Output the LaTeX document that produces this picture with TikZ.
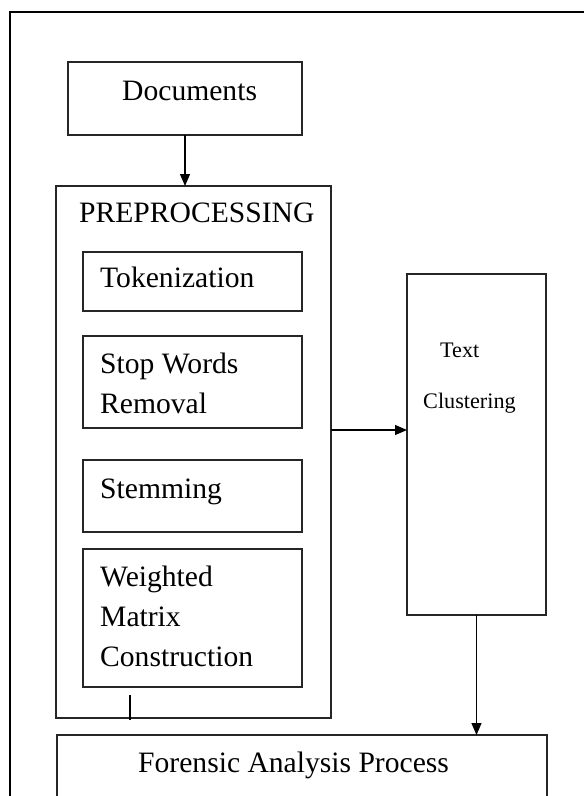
\documentclass[tikz,border=0pt]{standalone}
\usepackage{fontspec}
\setmainfont{Liberation Serif}
\usetikzlibrary{arrows.meta}
\begin{document}
\begin{tikzpicture}[x=1pt,y=-1pt,
  box/.style={draw=black!85,line width=1.3pt,inner sep=0pt,outer sep=0pt},
  lbl/.style={inner sep=0pt,anchor=base west,font=\fontsize{29.6}{40}\selectfont},
  small/.style={inner sep=0pt,anchor=base west,font=\fontsize{22.2}{30}\selectfont},
  arr/.style={line width=1.2pt,-{Triangle[length=12pt,width=10pt]}}]
\useasboundingbox (0,0) rectangle (584,796);
% page frame, open at right and bottom
\draw[line width=2.2pt] (10,796) -- (10,12) -- (584,12);
% boxes
\node[box,minimum width=234pt,minimum height=73pt] (docs) at (185,98.5) {};
\node[box,minimum width=275pt,minimum height=532pt] (pre) at (193.5,452) {};
\node[box,minimum width=219pt,minimum height=59pt] (tok) at (192.5,281.5) {};
\node[box,minimum width=219pt,minimum height=92pt] (stop) at (192.5,382) {};
\node[box,minimum width=219pt,minimum height=72pt] (stem) at (192.5,496) {};
\node[box,minimum width=219pt,minimum height=138pt] (wmc) at (192.5,618) {};
\node[box,minimum width=139pt,minimum height=341pt] (clust) at (476.5,444.5) {};
% forensic box runs past the lower edge
\coordinate (faNW) at (57,735);
\coordinate (faNE) at (547,735);
\draw[draw=black!85,line width=1.3pt] (57,800) -- (faNW) -- (faNE) -- (547,800);
% labels
\node[lbl] (tdocs) at (122,100) {Documents};
\node[lbl] (tpre) at (79,222) {PREPROCESSING};
\node[lbl] (ttok) at (100,287) {Tokenization};
\node[lbl] (tstop1) at (100,373) {Stop Words};
\node[lbl] (tstop2) at (100,413) {Removal};
\node[lbl] (tstem) at (100,498) {Stemming};
\node[lbl] (tw1) at (100,586) {Weighted};
\node[lbl] (tw2) at (100,626) {Matrix};
\node[lbl] (tw3) at (100,666) {Construction};
\node[small] (ttext) at (440,357) {Text};
\node[small] (tclu) at (423,408) {Clustering};
\node[lbl] (tfa) at (138,772) {Forensic Analysis Process};
% connectors
\draw[arr] (docs.south) -- (docs.south |- pre.north);
\coordinate (preout) at (331,430);
\draw[arr] (preout) -- (clust.west |- preout);
\draw[arr] (clust.south) -- (clust.south |- faNE);
% short tick across the lower edge of the preprocessing box
\coordinate (tickA) at (130,695);
\coordinate (tickB) at (130,720);
\draw[line width=2.2pt] (tickA) -- (tickB);
\end{tikzpicture}
\end{document}
